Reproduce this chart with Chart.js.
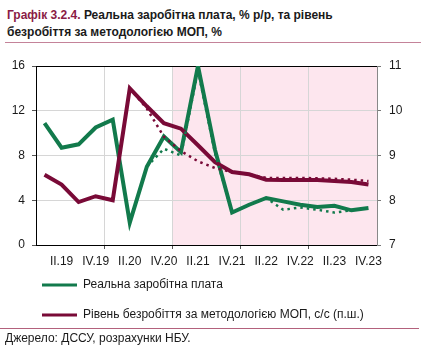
<!DOCTYPE html>
<html lang="uk">
<head>
<meta charset="UTF-8">
<title>Графік 3.2.4</title>
<script src="https://cdn.jsdelivr.net/npm/chart.js"></script>
<style>
    body {
        margin: 0;
        width: 429px;
        height: 351px;
        position: relative;
        font-family: "Liberation Sans", Arial, sans-serif;
        background: #fff;
        overflow: hidden;
    }
    .title {
        position: absolute;
        left: 5px;
        top: 7px;
        width: 414px;
        padding-left: 2px;
        font-size: 12px;
        font-weight: bold;
        line-height: 17px;
        color: #1a1a1a;
        border-bottom: 1px solid #c48399;
        padding-bottom: 1px;
    }
    .title span { color: #8a1c45; }
    .chartBox {
        position: absolute;
        left: 0;
        top: 44px;
        width: 429px;
        height: 297px;
    }
    .source {
        position: absolute;
        left: 0;
        top: 328px;
        width: 414px;
        padding-left: 5px;
        border-top: 1px solid #b3617c;
        font-size: 12px;
        line-height: 19px;
        color: #1a1a1a;
    }
</style>
</head>
<body>
<div class="title"><span>Графік 3.2.4.</span> Реальна заробітна плата, % р/р, та рівень<br>безробіття за методологією МОП, %</div>
<div class="chartBox"><canvas id="chart"></canvas></div>
<div class="source">Джерело: ДССУ, розрахунки НБУ.</div>

<script>
    // квартали I.19 ... IV.23
    const quarters = ['I.19', 'II.19', 'III.19', 'IV.19', 'I.20', 'II.20', 'III.20', 'IV.20',
        'I.21', 'II.21', 'III.21', 'IV.21', 'I.22', 'II.22', 'III.22', 'IV.22',
        'I.23', 'II.23', 'III.23', 'IV.23'];

    // реальна заробітна плата, % р/р (л.ш.)
    const wage = [10.9, 8.7, 9.0, 10.5, 11.2, 2.0, 7.0, 9.7, 8.3, 16.0,
        8.5, 2.9, 3.6, 4.2, 3.9, 3.6, 3.4, 3.5, 3.1, 3.3];
    // попередня оцінка (пунктир)
    const wagePrev = [null, null, null, null, null, null, 7.0, 8.6, 8.0, 15.6,
        8.2, 2.9, 3.6, 4.2, 3.15, 3.35, 3.15, 2.9, 3.1, null];

    // рівень безробіття, с/с (п.ш.)
    const unemp = [8.57, 8.35, 7.96, 8.09, 8.0, 10.5, 10.1, 9.72, 9.6, 9.23,
        8.85, 8.63, 8.58, 8.46, 8.45, 8.45, 8.45, 8.43, 8.41, 8.35];
    const unempPrev = [null, null, null, null, null, 10.5, 10.05, 9.42, 9.1, 8.87,
        8.72, 8.63, 8.58, 8.5, 8.5, 8.5, 8.49, 8.48, 8.46, 8.43];

    const leftTicks = [0, 4, 8, 12, 16];
    const rightTicks = [7, 8, 9, 10, 11];
    const shadeFrom = 'I.21';

    const green = '#127a4c';
    const maroon = '#790a37';
    const font = { family: '"Liberation Sans", Arial, sans-serif', size: 12 };

    // рожевий фон з I.21 до кінця
    const shadePlugin = {
        id: 'shade',
        beforeDraw(chart) {
            const x = chart.scales.x;
            const area = chart.chartArea;
            const i = quarters.indexOf(shadeFrom);
            const left = (x.getPixelForValue(i - 1) + x.getPixelForValue(i)) / 2;
            const c = chart.ctx;
            c.save();
            c.fillStyle = '#fde6ee';
            c.fillRect(left, area.top, area.right - left, area.bottom - area.top);
            c.restore();
        }
    };

    // легенда трохи вище і з відступом зліва, як в оригіналі
    const legendShift = {
        id: 'legendShift',
        afterLayout(chart) {
            const lg = chart.legend;
            if (!lg) return;
            lg.left += 24;
            lg.top -= 10;
            lg.bottom -= 10;
        }
    };

    const yearGrid = ctx => (ctx.index % 4 === 0 && ctx.index > 0) ? '#d6d6d6' : 'rgba(0,0,0,0)';
    const yearTick = ctx => (ctx.index % 4 === 0 && ctx.index > 0) ? '#555' : 'rgba(0,0,0,0)';

    new Chart(document.getElementById('chart'), {
        type: 'line',
        data: {
            labels: quarters,
            datasets: [
                {
                    label: 'Реальна заробітна плата',
                    data: wage,
                    yAxisID: 'y',
                    borderColor: green,
                    backgroundColor: green,
                    borderWidth: 4,
                    pointRadius: 0,
                    order: 3
                },
                {
                    label: 'Рівень безробіття за методологією МОП, с/с (п.ш.)',
                    data: unemp,
                    yAxisID: 'y2',
                    borderColor: maroon,
                    backgroundColor: maroon,
                    borderWidth: 4,
                    pointRadius: 0,
                    order: 2
                },
                {
                    label: 'prevWage',
                    data: wagePrev,
                    yAxisID: 'y',
                    borderColor: green,
                    borderWidth: 2.5,
                    borderDash: [2.5, 4],
                    pointRadius: 0,
                    order: 1
                },
                {
                    label: 'prevUnemp',
                    data: unempPrev,
                    yAxisID: 'y2',
                    borderColor: maroon,
                    borderWidth: 2.5,
                    borderDash: [2.5, 4],
                    pointRadius: 0,
                    order: 0
                }
            ]
        },
        options: {
            responsive: true,
            maintainAspectRatio: false,
            animation: false,
            layout: { padding: { left: 0, right: 0, top: 22, bottom: 0 } },
            plugins: {
                tooltip: { enabled: false },
                legend: {
                    position: 'bottom',
                    align: 'start',
                    labels: {
                        generateLabels: chart => Chart.defaults.plugins.legend.labels.generateLabels(chart)
                            .map(item => Object.assign(item, { lineWidth: 0 })),
                        filter: item => item.datasetIndex < 2,
                        sort: (a, b) => a.datasetIndex - b.datasetIndex,
                        boxWidth: 35,
                        boxHeight: 3,
                        padding: 18,
                        color: '#1a1a1a',
                        font: font
                    }
                }
            },
            scales: {
                x: {
                    offset: true,
                    afterFit: s => { s.height = 26; },
                    grid: {
                        offset: true,
                        color: yearGrid,
                        tickColor: yearTick,
                        tickLength: 4
                    },
                    border: { color: '#000', width: 1 },
                    ticks: {
                        autoSkip: false,
                        maxRotation: 0,
                        padding: 5,
                        color: '#1a1a1a',
                        font: font,
                        callback: (v, i) => i % 2 === 1 ? quarters[i] : ''
                    }
                },
                y: {
                    position: 'left',
                    min: leftTicks[0],
                    max: leftTicks[leftTicks.length - 1],
                    afterFit: s => { s.width = 36; },
                    afterBuildTicks: s => { s.ticks = leftTicks.map(v => ({ value: v })); },
                    grid: {
                        color: c => c.tick && c.tick.value === 16 ? '#000' : '#d6d6d6',
                        tickColor: '#555',
                        tickLength: 4
                    },
                    border: { color: '#000', width: 1 },
                    ticks: {
                        padding: 7,
                        color: '#1a1a1a',
                        font: font
                    }
                },
                y2: {
                    position: 'right',
                    min: rightTicks[0],
                    max: rightTicks[rightTicks.length - 1],
                    afterFit: s => { s.width = 52; },
                    afterBuildTicks: s => { s.ticks = rightTicks.map(v => ({ value: v })); },
                    grid: {
                        drawOnChartArea: false,
                        tickColor: '#777',
                        tickLength: 4
                    },
                    border: { color: '#888', width: 1 },
                    ticks: {
                        padding: 8,
                        color: '#1a1a1a',
                        font: font
                    }
                }
            }
        },
        plugins: [shadePlugin, legendShift]
    });
</script>
</body>
</html>
